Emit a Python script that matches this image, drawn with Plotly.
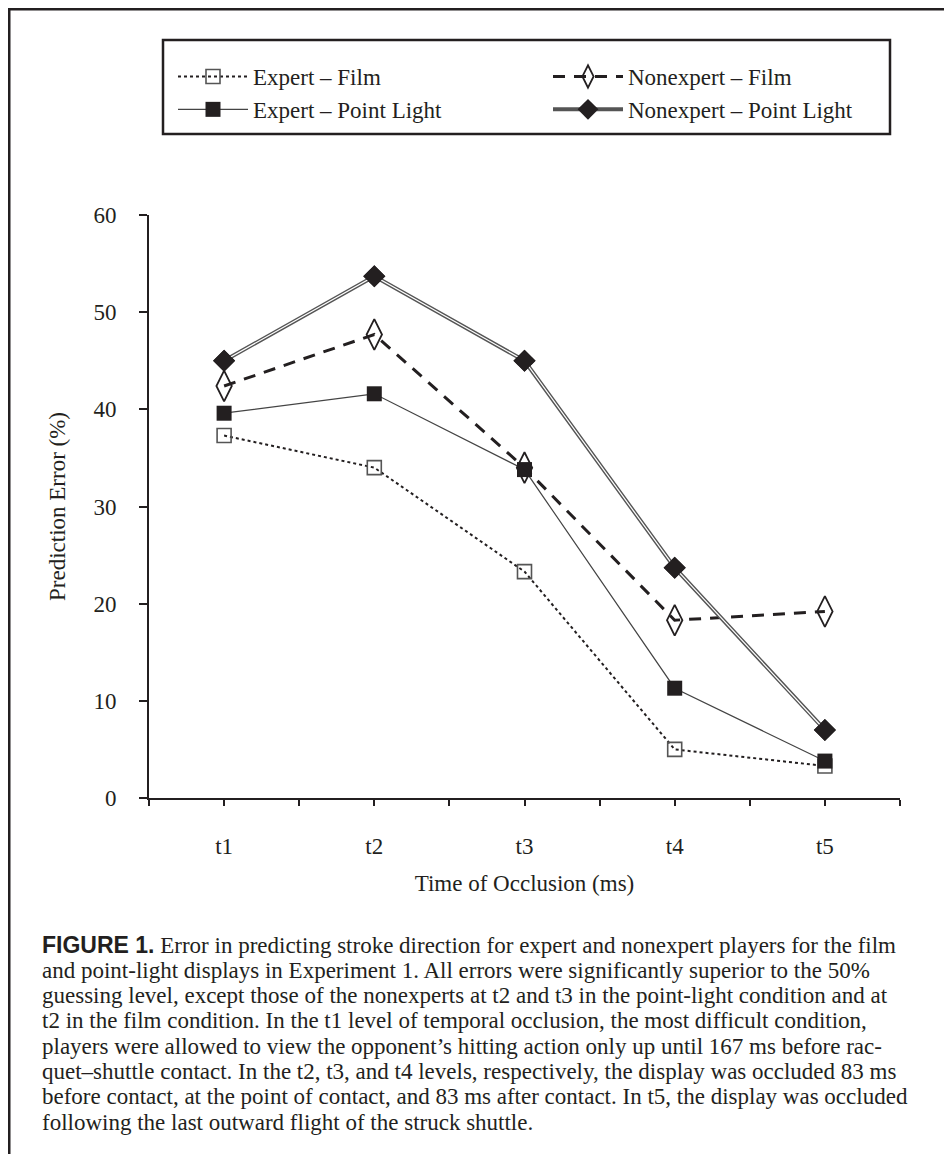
import plotly.graph_objects as go

# ---- data ----
categories = ["t1", "t2", "t3", "t4", "t5"]
cat_pos = [1, 2, 3, 4, 5]
expert_film = [37.3, 34.0, 23.3, 5.0, 3.3]
nonexpert_film = [42.4, 47.7, 34.0, 18.3, 19.2]
expert_pl = [39.6, 41.6, 33.8, 11.3, 3.8]
nonexpert_pl = [45.0, 53.7, 45.0, 23.7, 7.0]
y_ticks = [0, 10, 20, 30, 40, 50, 60]
x_tickvals = [0.5, 1, 1.5, 2, 2.5, 3, 3.5, 4, 4.5, 5, 5.5]
x_ticktext = ["", "t1", "", "t2", "", "t3", "", "t4", "", "t5", ""]

caption_lines = [
    "<span style='font-family:Liberation Sans;font-weight:bold'>FIGURE 1.</span> Error in predicting stroke direction for expert and nonexpert players for the film",
    "and point-light displays in Experiment 1. All errors were significantly superior to the 50%",
    "guessing level, except those of the nonexperts at t2 and t3 in the point-light condition and at",
    "t2 in the film condition. In the t1 level of temporal occlusion, the most difficult condition,",
    "players were allowed to view the opponent\u2019s hitting action only up until 167 ms before rac-",
    "quet\u2013shuttle contact. In the t2, t3, and t4 levels, respectively, the display was occluded 83 ms",
    "before contact, at the point of contact, and 83 ms after contact. In t5, the display was occluded",
    "following the last outward flight of the struck shuttle.",
]

INK = "#231f20"
SERIF = "Liberation Serif"
W, H = 952, 1154
OFF = 8  # page margin of the browser
# plot area, in screen px of the reference
SL, SR, ST, SB = 149, 900, 215, 798
L, R, T, B = SL - OFF, SR - OFF, ST - OFF, SB - OFF


def px(xs):
    """screen x of reference -> paper x"""
    return (xs - SL) / (SR - SL)


def py(ys):
    """screen y of reference -> paper y"""
    return (SB - ys) / (SB - ST)


fig = go.Figure()

fig.add_trace(go.Scatter(
    x=cat_pos, y=expert_film, name="Expert \u2013 Film", mode="lines+markers",
    line=dict(color=INK, width=2, dash="dot"),
    marker=dict(symbol="square-open", size=14, color="#555555", line=dict(width=1.6)),
    legendrank=1,
))
fig.add_trace(go.Scatter(
    x=cat_pos, y=expert_pl, name="Expert \u2013 Point Light", mode="lines+markers",
    line=dict(color="#444444", width=1.2),
    marker=dict(symbol="square", size=15, color=INK),
    legendrank=3,
))
fig.add_trace(go.Scatter(
    x=cat_pos, y=nonexpert_film, name="Nonexpert \u2013 Film", mode="lines+markers",
    line=dict(color=INK, width=3, dash="12px,9px"),
    marker=dict(symbol="diamond-tall-open", size=22, color=INK, line=dict(width=1.8)),
    legendrank=2,
))
fig.add_trace(go.Scatter(
    x=cat_pos, y=nonexpert_pl, name="Nonexpert \u2013 Point Light", mode="lines+markers",
    line=dict(color="#555555", width=4),
    marker=dict(symbol="diamond", size=17, color=INK),
    legendrank=4, legendgroup="npl",
))
fig.add_trace(go.Scatter(
    x=cat_pos, y=nonexpert_pl, mode="lines", showlegend=False, hoverinfo="skip",
    line=dict(color="white", width=1.2), legendgroup="npl",
))
fig.add_trace(go.Scatter(
    x=cat_pos, y=nonexpert_pl, mode="markers", showlegend=False, hoverinfo="skip",
    marker=dict(symbol="diamond", size=17, color=INK), legendgroup="npl",
))

shapes = [
    # outer frame (top and left)
    dict(type="line", xref="paper", yref="paper", x0=px(0), x1=px(W + OFF), y0=py(9), y1=py(9),
         line=dict(color=INK, width=3)),
    dict(type="line", xref="paper", yref="paper", x0=px(9), x1=px(9), y0=py(9), y1=py(H + OFF),
         line=dict(color=INK, width=3)),
    # legend box
    dict(type="rect", xref="paper", yref="paper", x0=px(163), x1=px(890), y0=py(40), y1=py(134),
         line=dict(color=INK, width=2.5), fillcolor="rgba(0,0,0,0)"),
]

annotations = []
for i, line in enumerate(caption_lines):
    annotations.append(dict(
        text=line, xref="paper", yref="paper", x=px(40), y=py(945 + i * 25.3),
        xanchor="left", yanchor="middle", showarrow=False, align="left",
        font=dict(family=SERIF, size=23, color=INK),
    ))

fig.update_layout(
    width=W, height=H,
    margin=dict(l=L, r=W - R, t=T, b=H - B),
    paper_bgcolor="white", plot_bgcolor="white",
    font=dict(family=SERIF, size=23, color=INK),
    showlegend=True,
    legend=dict(
        orientation="h", x=px(173), y=py(55), xanchor="left", yanchor="top",
        bgcolor="rgba(0,0,0,0)", borderwidth=0,
        entrywidth=290, entrywidthmode="pixels", itemwidth=70,
        font=dict(family=SERIF, size=23, color=INK),
        traceorder="normal",
    ),
    shapes=shapes,
    annotations=annotations,
    xaxis=dict(
        range=[0.5, 5.5], tickmode="array", tickvals=x_tickvals, ticktext=x_ticktext,
        showgrid=False, zeroline=False, showline=True, linecolor=INK, linewidth=2,
        ticks="outside", ticklen=6, tickwidth=2, tickcolor=INK,
        ticklabelstandoff=20,
        tickfont=dict(family=SERIF, size=23, color=INK),
        title=dict(text="Time of Occlusion (ms)", standoff=17,
                   font=dict(family=SERIF, size=23, color=INK)),
    ),
    yaxis=dict(
        range=[0, 60], tickmode="array", tickvals=y_ticks,
        showgrid=False, zeroline=False, showline=True, linecolor=INK, linewidth=2,
        ticks="outside", ticklen=8, tickwidth=2, tickcolor=INK,
        ticklabelstandoff=18,
        tickfont=dict(family=SERIF, size=23, color=INK),
        title=dict(text="Prediction Error (%)", standoff=21,
                   font=dict(family=SERIF, size=23, color=INK)),
    ),
)

fig.write_html("out.html")
